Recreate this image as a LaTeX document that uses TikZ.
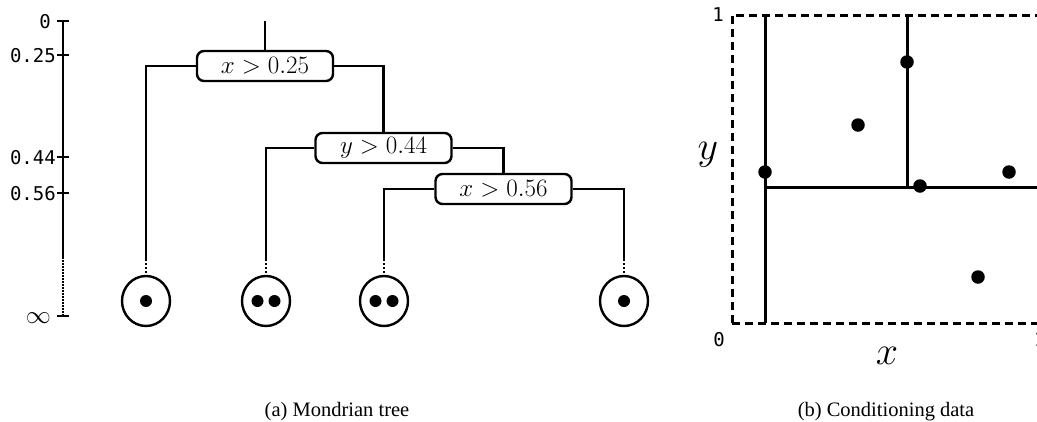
\documentclass[tikz,border=0pt]{standalone}
\usepackage{fix-cm}
\usepackage{fontspec}
\setmainfont{Liberation Serif}
\newfontfamily\monof{DejaVu Sans Mono}
\usetikzlibrary{shapes.geometric}
\begin{document}
\begin{tikzpicture}[x=1pt,y=-1pt,
  splitbox/.style={draw, line width=2.4pt, rounded corners=7pt, minimum width=136pt,
    minimum height=30pt, inner sep=0pt, font=\fontsize{25}{28}\selectfont},
  edge/.style={line width=2.4pt},
  leafdash/.style={line width=2.4pt, dash pattern=on 2pt off 2pt},
  leaf/.style={draw, line width=2.4pt, ellipse, minimum width=48pt, minimum height=50pt, inner sep=0pt},
  pt/.style={circle, fill, inner sep=0pt, minimum size=12pt},
  bigpt/.style={circle, fill, inner sep=0pt, minimum size=13.5pt},
  ticklab/.style={font=\monof\fontsize{19}{22}\selectfont, anchor=east, inner sep=0pt},
  axislab/.style={font=\fontsize{40}{44}\selectfont, inner sep=0pt},
  caption/.style={font=\fontsize{20.5}{24}\selectfont, anchor=base, inner sep=0pt},
  axisline/.style={line width=1.1pt},
  region/.style={line width=3pt},
  dashbox/.style={line width=3pt, dash pattern=on 8pt off 5pt}
]
\useasboundingbox (0,0) rectangle (1037,421);

% ---------- axis ----------
\coordinate (a0) at (63,21);
\coordinate (a25) at (63,55);
\coordinate (a44) at (63,157);
\coordinate (a56) at (63,193);
\coordinate (adash) at (63,257);
\coordinate (ainf) at (63,316);
\draw[axisline] (a0) -- (adash);
\draw[axisline, dash pattern=on 1.5pt off 1.5pt] (adash) -- (ainf);
\foreach \c in {a0,a25,a44,a56,ainf}{
  \draw[axisline] ([xshift=-6pt]\c) -- ([xshift=6pt]\c);
}
\node[ticklab] (t0) at (51,22) {0};
\node[ticklab] (t25) at (56,56) {0.25};
\node[ticklab] (t44) at (56,158) {0.44};
\node[ticklab] (t56) at (56,194) {0.56};
\node[anchor=east, inner sep=0pt, font=\fontsize{25}{28}\selectfont] (tinf) at (51,318) {$\infty$};

% ---------- tree ----------
\node[splitbox] (n1) at (265,66) {$x>0.25$};
\node[splitbox] (n2) at (383.5,148) {$y>0.44$};
\node[splitbox] (n3) at (503.5,189) {$x>0.56$};

\node[leaf] (l1) at (146,301) {};
\node[leaf] (l2) at (266,301) {};
\node[leaf] (l3) at (384,301) {};
\node[leaf] (l4) at (624,301) {};

\node[pt] (d1) at (l1.center) {};
\node[pt] (d2a) at ([xshift=-8.5pt]l2.center) {};
\node[pt] (d2b) at ([xshift=8.5pt]l2.center) {};
\node[pt] (d3a) at ([xshift=-8.5pt]l3.center) {};
\node[pt] (d3b) at ([xshift=8.5pt]l3.center) {};
\node[pt] (d4) at (l4.center) {};

\coordinate (root) at (265,21);
\coordinate (c1) at (146,259);
\coordinate (c2) at (266,259);
\coordinate (c3) at (384,259);
\coordinate (c4) at (624,259);

\draw[edge] (root) -- (n1.north);
\draw[edge] (n1.west) -| (c1);
\draw[edge] (n1.east) -| (n2.north);
\draw[edge] (n2.west) -| (c2);
\draw[edge] (n2.east) -| (n3.north);
\draw[edge] (n3.west) -| (c3);
\draw[edge] (n3.east) -| (c4);
\draw[leafdash] (c1) -- (l1.north);
\draw[leafdash] (c2) -- (l2.north);
\draw[leafdash] (c3) -- (l3.north);
\draw[leafdash] (c4) -- (l4.north);

% ---------- right panel ----------
\draw[dashbox] (732,323) -- (732,15) -- (1050,15);
\draw[dashbox] (732,323) -- (1050,323);
\draw[region] (765,15) -- (765,323);
\draw[region] (765,187) -- (1050,187);
\draw[region] (907,15) -- (907,187);

\node[bigpt] (p1) at (765,172) {};
\node[bigpt] (p2) at (858,125) {};
\node[bigpt] (p3) at (907,62) {};
\node[bigpt] (p4) at (920,186) {};
\node[bigpt] (p5) at (1009,172) {};
\node[bigpt] (p6) at (978,277) {};

\node[font=\monof\fontsize{19}{22}\selectfont, inner sep=0pt] (r1) at (718,15) {1};
\node[font=\monof\fontsize{19}{22}\selectfont, inner sep=0pt] (r0) at (719,340) {0};
\node[font=\monof\fontsize{19}{22}\selectfont, inner sep=0pt, anchor=west] (rx1) at (1034,340) {1};
\node[axislab] (ylab) at (708,155) {$y$};
\node[axislab] (xlab) at (887,356) {$x$};

% ---------- captions ----------
\node[caption] (capa) at (337,416) {(a) Mondrian tree};
\node[caption] (capb) at (886,416) {(b) Conditioning data};
\end{tikzpicture}
\end{document}
